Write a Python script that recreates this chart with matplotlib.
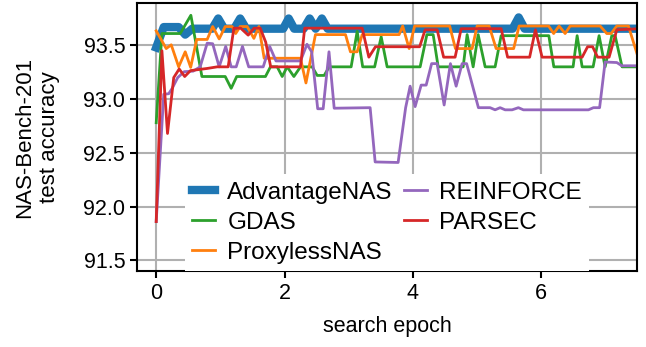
import matplotlib
matplotlib.use('Agg')
import matplotlib.pyplot as plt

plt.rcParams['font.family'] = ['Liberation Sans', 'DejaVu Sans']

# (epoch, accuracy) breakpoints
adv_x = [0.0, 0.117, 0.350, 0.452, 0.561, 0.872, 0.966, 1.059, 1.215, 1.308, 1.402,
         1.978, 2.064, 2.150, 2.297, 2.391, 2.484, 2.581, 2.671, 5.553, 5.647, 5.740, 7.54]
adv_y = [93.48, 93.67, 93.67, 93.60, 93.655, 93.655, 93.75, 93.655, 93.655, 93.75, 93.655,
         93.655, 93.75, 93.655, 93.655, 93.75, 93.655, 93.75, 93.655, 93.655, 93.76, 93.655, 93.655]

gdas_x = [0.0, 0.089, 0.374, 0.540, 0.712, 1.075, 1.168, 1.254, 1.702, 1.780, 1.885, 1.963,
          2.040, 2.145, 2.248, 2.430, 2.508, 2.617, 2.695, 3.037, 3.131, 3.217, 3.403, 3.505,
          3.598, 4.112, 4.217, 4.315, 4.393, 4.782, 4.844, 4.938, 5.016, 5.125, 5.280, 5.374,
          6.117, 6.195, 6.495, 6.558, 6.636, 6.807, 6.900, 6.994, 7.098, 7.150, 7.258, 7.54]
gdas_y = [92.78, 93.61, 93.61, 93.78, 93.21, 93.21, 93.10, 93.21, 93.21, 93.30, 93.30, 93.21,
          93.30, 93.21, 93.30, 93.30, 93.22, 93.22, 93.30, 93.30, 93.63, 93.30, 93.30, 93.58,
          93.30, 93.30, 93.60, 93.60, 93.30, 93.30, 93.60, 93.30, 93.60, 93.30, 93.30, 93.59,
          93.59, 93.30, 93.30, 93.59, 93.30, 93.30, 93.59, 93.30, 93.59, 93.59, 93.30, 93.30]

proxy_x = [0.0, 0.156, 0.234, 0.350, 0.452, 0.537, 0.631, 0.794, 0.880, 0.981, 1.075, 1.184,
           1.238, 1.308, 1.417, 1.522, 1.600, 1.682, 2.248, 2.333, 2.481, 2.949, 3.026, 3.131,
           3.209, 3.785, 3.840, 3.941, 4.026, 4.572, 4.662, 4.922, 5.000, 5.187, 5.296, 5.569,
           5.654, 6.114, 6.192, 6.277, 6.371, 6.449, 6.916, 7.020, 7.087, 7.176, 7.357, 7.492, 7.54]
proxy_y = [93.635, 93.47, 93.505, 93.30, 93.44, 93.295, 93.555, 93.555, 93.675, 93.56, 93.675, 93.675,
           93.61, 93.675, 93.675, 93.565, 93.675, 93.38, 93.38, 93.15, 93.60, 93.60, 93.44, 93.44,
           93.60, 93.60, 93.68, 93.47, 93.68, 93.68, 93.47, 93.47, 93.68, 93.68, 93.47, 93.47,
           93.68, 93.68, 93.61, 93.68, 93.61, 93.68, 93.68, 93.61, 93.61, 93.68, 93.68, 93.42, 93.33]

rein_x = [0.0, 0.117, 0.195, 0.249, 0.335, 0.436, 0.576, 0.685, 0.794, 0.880, 0.981, 1.083,
          1.168, 1.246, 1.344, 1.441, 1.667, 1.768, 1.866, 2.248, 2.349, 2.422, 2.516, 2.601,
          2.692, 2.773, 3.333, 3.411, 3.769, 3.886, 3.956, 4.034, 4.128, 4.206, 4.291, 4.377,
          4.486, 4.584, 4.673, 4.766, 4.836, 5.020, 5.202, 5.280, 5.358, 5.436, 5.545, 5.643,
          5.721, 6.734, 6.812, 6.908, 6.994, 7.176, 7.254, 7.54]
rein_y = [91.86, 93.045, 93.05, 93.10, 93.20, 93.255, 93.26, 93.30, 93.52, 93.515, 93.30, 93.49,
          93.30, 93.30, 93.49, 93.30, 93.30, 93.49, 93.355, 93.355, 93.51, 93.44, 92.91, 92.91,
          93.44, 92.915, 92.92, 92.415, 92.41, 92.92, 93.12, 92.93, 93.13, 93.13, 93.33, 93.33,
          92.945, 93.33, 93.12, 93.33, 93.33, 92.92, 92.92, 92.90, 92.92, 92.90, 92.90, 92.92,
          92.90, 92.90, 92.92, 92.92, 93.345, 93.34, 93.31, 93.31]

parsec_x = [0.0, 0.089, 0.176, 0.273, 0.358, 0.444, 0.534, 0.794, 0.950, 1.121, 1.210, 1.316,
            1.433, 1.526, 1.620, 1.706, 1.784, 2.248, 2.313, 3.209, 3.313, 3.416, 4.104, 4.190,
            4.377, 4.478, 4.657, 4.751, 5.374, 5.475, 5.818, 5.908, 6.012, 6.636, 6.721, 6.799,
            6.877, 7.056, 7.176, 7.54]
parsec_y = [91.86, 93.45, 92.68, 93.20, 93.28, 93.21, 93.265, 93.285, 93.30, 93.30, 93.66, 93.66,
            93.595, 93.66, 93.66, 93.53, 93.30, 93.30, 93.66, 93.66, 93.39, 93.487, 93.487, 93.645,
            93.645, 93.39, 93.39, 93.655, 93.655, 93.39, 93.39, 93.645, 93.39, 93.39, 93.487, 93.487,
            93.39, 93.39, 93.645, 93.655]

fig = plt.figure(figsize=(6.46, 3.47), dpi=100)
ax = fig.add_axes([0.212, 0.219, 0.774, 0.772])

ax.plot(adv_x, adv_y, color='tab:blue', lw=6, label='AdvantageNAS')
ax.plot(gdas_x, gdas_y, color='tab:green', lw=2, label='GDAS')
ax.plot(proxy_x, proxy_y, color='tab:orange', lw=2, label='ProxylessNAS')
ax.plot(rein_x, rein_y, color='tab:purple', lw=2, label='REINFORCE')
ax.plot(parsec_x, parsec_y, color='tab:red', lw=2, label='PARSEC')

ax.set_xlim(-0.3, 7.49)
ax.set_ylim(91.40, 93.893)
ax.set_xticks([0, 2, 4, 6])
ax.set_yticks([91.5, 92.0, 92.5, 93.0, 93.5])
ax.grid(True, color='#b0b0b0', lw=1.5)
ax.set_axisbelow(True)
for s in ax.spines.values():
    s.set_linewidth(1.5)
ax.tick_params(labelsize=15.5, width=1.5, length=5)
ax.set_xlabel('search epoch', fontsize=15.5, labelpad=9)
ax.set_ylabel('NAS-Bench-201\ntest accuracy', fontsize=16, labelpad=17)

leg = ax.legend(ncol=2, loc='lower center', fontsize=17.5, handlelength=0.95,
                frameon=True, fancybox=False, borderaxespad=0.0, columnspacing=0.45,
                handletextpad=0.5, labelspacing=0.33, borderpad=0.3)
leg.get_frame().set_edgecolor('none')
leg.get_frame().set_alpha(1.0)

fig.savefig('out.png', dpi=100)
